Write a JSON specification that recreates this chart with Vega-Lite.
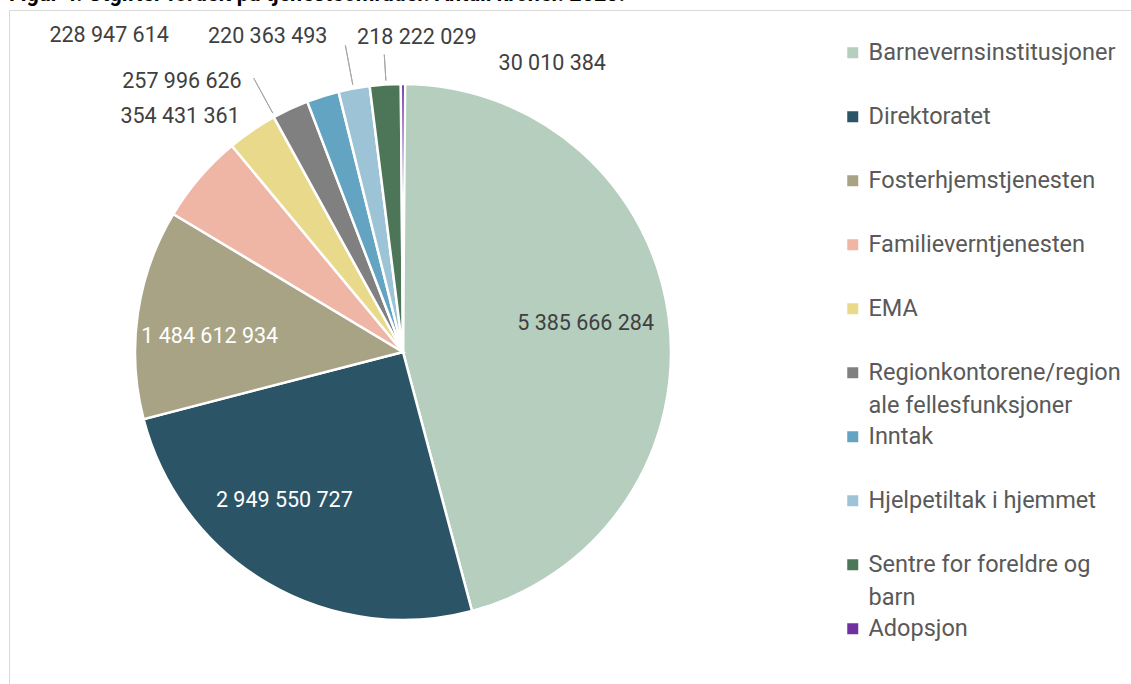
{
  "$schema": "https://vega.github.io/schema/vega-lite/v6.json",
  "width": 1122,
  "height": 674,
  "autosize": {"type": "none"},
  "padding": {"left": 9, "top": 10, "right": 0, "bottom": 0},
  "background": "white",
  "title": {
    "text": "Figur 4. Utgifter fordelt på tjenesteområder. Antall kroner. 2023.",
    "anchor": "start",
    "frame": "group",
    "orient": "top",
    "offset": -12,
    "fontSize": 21.5,
    "font": "Roboto",
    "fontWeight": "bold",
    "color": "#000000",
    "baseline": "alphabetic",
    "limit": 2000
  },
  "config": {
    "view": {"stroke": "#D9D9D9", "strokeWidth": 1},
    "locale": {"number": {"decimal": ",", "thousands": " ", "grouping": [3], "currency": ["", " kr"]}},
    "text": {"font": "Roboto"},
    "style": {"guide-label": {"lineHeight": 33}},
    "legend": {
      "orient": "none",
      "legendX": 832,
      "legendY": 31,
      "padding": 0,
      "title": null
    }
  },
  "data": {
    "values": [
      {"omrade": "Barnevernsinstitusjoner", "kroner": 5385666284},
      {"omrade": "Direktoratet", "kroner": 2949550727},
      {"omrade": "Fosterhjemstjenesten", "kroner": 1484612934},
      {"omrade": "Familieverntjenesten", "kroner": 630000000},
      {"omrade": "EMA", "kroner": 354431361},
      {"omrade": "Regionkontorene/regionale fellesfunksjoner", "kroner": 257996626},
      {"omrade": "Inntak", "kroner": 228947614},
      {"omrade": "Hjelpetiltak i hjemmet", "kroner": 220363493},
      {"omrade": "Sentre for foreldre og barn", "kroner": 218222029},
      {"omrade": "Adopsjon", "kroner": 30010384}
    ]
  },
  "transform": [
    {"window": [{"op": "row_number", "as": "rekke"}]},
    {"stack": "kroner", "groupby": [], "sort": [{"field": "rekke", "order": "ascending"}], "as": ["v0", "v1"]},
    {"calculate": "(datum.v0 + datum.v1) / 2", "as": "mid"}
  ],
  "layer": [
    {
      "mark": {"type": "arc", "outerRadius": 268, "stroke": "white", "strokeWidth": 2.5},
      "encoding": {
        "x": {"value": 394},
        "y": {"value": 342},
        "theta": {"field": "v0", "type": "quantitative", "scale": {"type": "linear", "zero": true, "nice": false}},
        "theta2": {"field": "v1"},
        "color": {
          "field": "omrade",
          "type": "nominal",
          "scale": {
            "domain": ["Barnevernsinstitusjoner", "Direktoratet", "Fosterhjemstjenesten", "Familieverntjenesten", "EMA", "Regionkontorene/regionale fellesfunksjoner", "Inntak", "Hjelpetiltak i hjemmet", "Sentre for foreldre og barn", "Adopsjon"],
            "range": ["#B5CEBE", "#2B5566", "#A9A385", "#EFB6A6", "#E9DA8B", "#808080", "#62A4C1", "#9DC3D6", "#4D7659", "#7030A0"]
          },
          "legend": {
            "symbolType": "square",
            "symbolSize": 121,
            "symbolStrokeWidth": 0,
            "symbolOpacity": 1,
            "labelFontSize": 23.5,
            "labelFont": "Roboto",
            "labelColor": "#595959",
            "labelLimit": 400,
            "labelOffset": 4,
            "rowPadding": 6,
            "gridAlign": "all",
            "labelExpr": "datum.label == 'Regionkontorene/regionale fellesfunksjoner' ? ['Regionkontorene/region', 'ale fellesfunksjoner'] : datum.label == 'Sentre for foreldre og barn' ? ['Sentre for foreldre og', 'barn'] : datum.label"
          }
        }
      }
    },
    {
      "transform": [{"filter": "datum.omrade == 'Regionkontorene/regionale fellesfunksjoner'"}],
      "mark": {"type": "arc", "outerRadius": 312, "innerRadius": 272, "thetaOffset": -0.065, "theta2Offset": -0.065, "filled": false, "stroke": "#A6A6A6", "strokeWidth": 1},
      "encoding": {"x": {"value": 394}, "y": {"value": 342}, "theta": {"field": "mid", "type": "quantitative"}, "theta2": {"field": "mid"}}
    },
    {
      "transform": [{"filter": "datum.omrade == 'Hjelpetiltak i hjemmet'"}],
      "mark": {"type": "arc", "outerRadius": 312, "innerRadius": 272, "thetaOffset": -0.002, "theta2Offset": -0.002, "filled": false, "stroke": "#A6A6A6", "strokeWidth": 1},
      "encoding": {"x": {"value": 394}, "y": {"value": 342}, "theta": {"field": "mid", "type": "quantitative"}, "theta2": {"field": "mid"}}
    },
    {
      "transform": [{"filter": "datum.omrade == 'Sentre for foreldre og barn'"}],
      "mark": {"type": "arc", "outerRadius": 298, "innerRadius": 272, "thetaOffset": 0.0035, "theta2Offset": 0.0035, "filled": false, "stroke": "#A6A6A6", "strokeWidth": 1},
      "encoding": {"x": {"value": 394}, "y": {"value": 342}, "theta": {"field": "mid", "type": "quantitative"}, "theta2": {"field": "mid"}}
    },
    {
      "transform": [{"filter": "datum.omrade == 'Barnevernsinstitusjoner'"}],
      "mark": {"type": "text", "radius": 185, "thetaOffset": -0.03, "fontSize": 21.5, "fill": "#404040", "dy": 2},
      "encoding": {"x": {"value": 394}, "y": {"value": 342}, "theta": {"field": "mid", "type": "quantitative", "stack": null}, "text": {"field": "kroner", "type": "quantitative", "format": ",d"}}
    },
    {
      "transform": [{"filter": "datum.omrade == 'Direktoratet'"}],
      "mark": {"type": "text", "radius": 189, "thetaOffset": 0.15, "fontSize": 21.5, "fill": "#FFFFFF", "dy": 2},
      "encoding": {"x": {"value": 394}, "y": {"value": 342}, "theta": {"field": "mid", "type": "quantitative", "stack": null}, "text": {"field": "kroner", "type": "quantitative", "format": ",d"}}
    },
    {
      "transform": [{"filter": "datum.omrade == 'Fosterhjemstjenesten'"}],
      "mark": {"type": "text", "radius": 194, "thetaOffset": -0.056, "fontSize": 21.5, "fill": "#FFFFFF", "dy": 2},
      "encoding": {"x": {"value": 394}, "y": {"value": 342}, "theta": {"field": "mid", "type": "quantitative", "stack": null}, "text": {"field": "kroner", "type": "quantitative", "format": ",d"}}
    },
    {
      "transform": [{"filter": "datum.omrade == 'EMA'"}],
      "mark": {"type": "text", "radius": 326, "thetaOffset": -0.155, "fontSize": 21.5, "fill": "#404040", "dy": 3},
      "encoding": {"x": {"value": 394}, "y": {"value": 342}, "theta": {"field": "mid", "type": "quantitative", "stack": null}, "text": {"field": "kroner", "type": "quantitative", "format": ",d"}}
    },
    {
      "transform": [{"filter": "datum.omrade == 'Regionkontorene/regionale fellesfunksjoner'"}],
      "mark": {"type": "text", "radius": 351, "thetaOffset": -0.247, "fontSize": 21.5, "fill": "#404040", "dy": 3},
      "encoding": {"x": {"value": 394}, "y": {"value": 342}, "theta": {"field": "mid", "type": "quantitative", "stack": null}, "text": {"field": "kroner", "type": "quantitative", "format": ",d"}}
    },
    {
      "transform": [{"filter": "datum.omrade == 'Inntak'"}],
      "mark": {"type": "text", "radius": 434, "thetaOffset": -0.44, "fontSize": 21.5, "fill": "#404040", "dy": 3},
      "encoding": {"x": {"value": 394}, "y": {"value": 342}, "theta": {"field": "mid", "type": "quantitative", "stack": null}, "text": {"field": "kroner", "type": "quantitative", "format": ",d"}}
    },
    {
      "transform": [{"filter": "datum.omrade == 'Hjelpetiltak i hjemmet'"}],
      "mark": {"type": "text", "radius": 346, "thetaOffset": -0.218, "fontSize": 21.5, "fill": "#404040", "dy": 3},
      "encoding": {"x": {"value": 394}, "y": {"value": 342}, "theta": {"field": "mid", "type": "quantitative", "stack": null}, "text": {"field": "kroner", "type": "quantitative", "format": ",d"}}
    },
    {
      "transform": [{"filter": "datum.omrade == 'Sentre for foreldre og barn'"}],
      "mark": {"type": "text", "radius": 317, "thetaOffset": 0.11, "fontSize": 21.5, "fill": "#404040", "dy": 3},
      "encoding": {"x": {"value": 394}, "y": {"value": 342}, "theta": {"field": "mid", "type": "quantitative", "stack": null}, "text": {"field": "kroner", "type": "quantitative", "format": ",d"}}
    },
    {
      "transform": [{"filter": "datum.omrade == 'Adopsjon'"}],
      "mark": {"type": "text", "radius": 327, "thetaOffset": 0.474, "fontSize": 21.5, "fill": "#404040", "dy": 3},
      "encoding": {"x": {"value": 394}, "y": {"value": 342}, "theta": {"field": "mid", "type": "quantitative", "stack": null}, "text": {"field": "kroner", "type": "quantitative", "format": ",d"}}
    }
  ]
}
